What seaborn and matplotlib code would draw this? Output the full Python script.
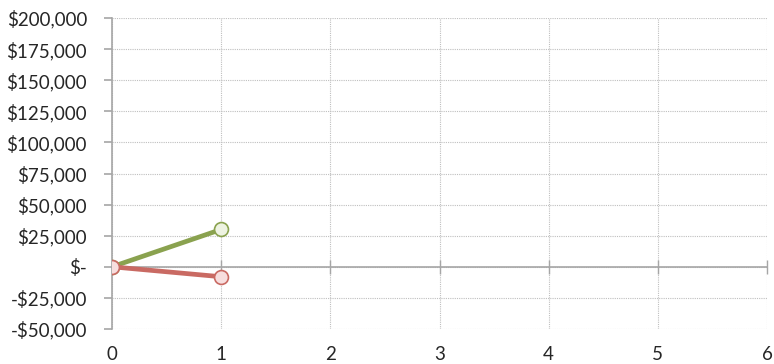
import matplotlib
matplotlib.use("Agg")
import matplotlib.pyplot as plt
import matplotlib.ticker as mticker
import pandas as pd
import seaborn as sns

# Cumulative values per period
periods = [0, 1]
gains = [0, 30000]
losses = [0, -8000]

x_ticks = [0, 1, 2, 3, 4, 5, 6]
y_ticks = [-50000, -25000, 0, 25000, 50000, 75000, 100000, 125000, 150000, 175000, 200000]

green = "#8aa24f"
red = "#c96a63"

sns.set_theme(style="white")
plt.rcParams["font.family"] = ["Lato", "DejaVu Sans"]

fig = plt.figure(figsize=(7.74, 3.64), dpi=100)
ax = fig.add_axes([0.1447, 0.0962, 0.8463, 0.8543])

df = pd.DataFrame({
    "period": periods * 2,
    "value": gains + losses,
    "series": ["gain"] * len(periods) + ["loss"] * len(periods),
})

sns.lineplot(data=df[df.series == "gain"], x="period", y="value", color=green,
             linewidth=3.4, marker="o", markersize=10, markerfacecolor="#eef3e2",
             markeredgecolor=green, markeredgewidth=1.2, ax=ax, zorder=4)
sns.lineplot(data=df[df.series == "loss"], x="period", y="value", color=red,
             linewidth=3.4, marker="o", markersize=10, markerfacecolor="#f7dede",
             markeredgecolor=red, markeredgewidth=1.2, ax=ax, zorder=5)

ax.set_xlim(x_ticks[0], x_ticks[-1])
ax.set_ylim(y_ticks[0], y_ticks[-1])
ax.set_xticks(x_ticks)
ax.set_yticks(y_ticks)
ax.set_xlabel("")
ax.set_ylabel("")


def money(v, pos=None):
    if v == 0:
        return "$-"
    s = f"${abs(v):,.0f}"
    return "-" + s if v < 0 else s


ax.yaxis.set_major_formatter(mticker.FuncFormatter(money))
ax.tick_params(axis="y", direction="out", length=6, width=1.2, color="#a6a6a6",
               labelsize=13.5, labelcolor="#262626", pad=12, left=True)

# Zero line acts as the category axis, with ticks crossing it
for side in ("top", "right"):
    ax.spines[side].set_visible(False)
ax.spines["bottom"].set_position(("data", 0))
ax.spines["bottom"].set_color("#a6a6a6")
ax.spines["bottom"].set_linewidth(1.2)
ax.spines["left"].set_color("#a6a6a6")
ax.spines["left"].set_linewidth(1.2)
ax.tick_params(axis="x", direction="inout", length=10, width=1.0, color="#a6a6a6",
               labelbottom=False, bottom=True)

# Labels for the periods sit below the plot area
sec = ax.secondary_xaxis("bottom")
sec.set_xticks(x_ticks)
sec.spines["bottom"].set_visible(False)
sec.tick_params(length=0, labelsize=13.5, labelcolor="#262626", pad=12)

ax.grid(True, which="major", color="#bfbfbf", linestyle=(0, (1, 1)), linewidth=0.8)
ax.set_axisbelow(True)

fig.savefig("out.png", dpi=100)
